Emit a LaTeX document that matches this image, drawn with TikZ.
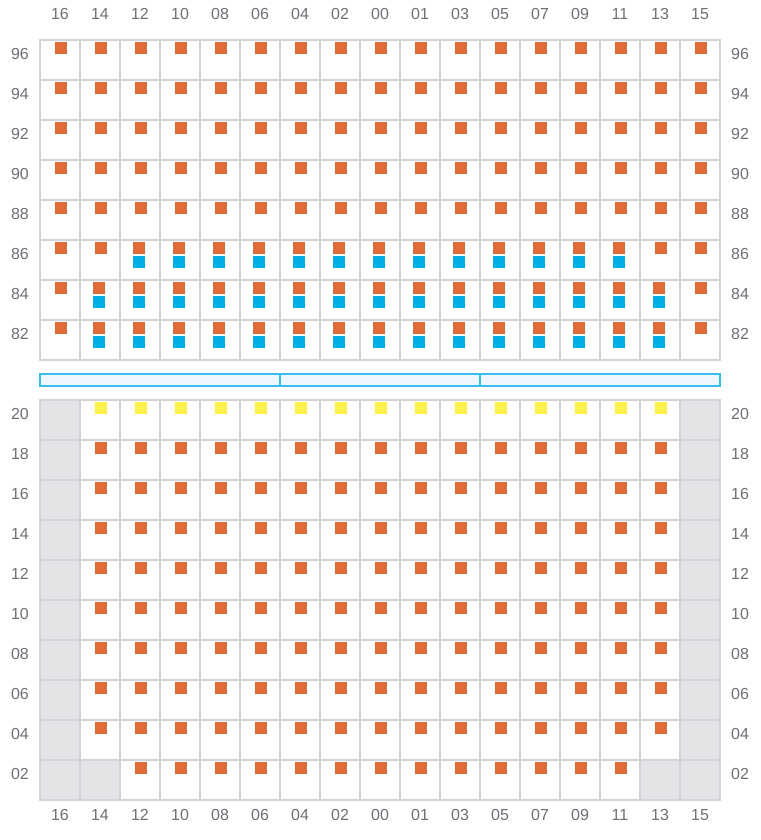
\documentclass[tikz,border=0pt]{standalone}
\usepackage{fontspec}
\setmainfont{Liberation Sans}
\usepackage{tikz}
\usetikzlibrary{math}

\definecolor{gridgray}{RGB}{212,212,216}
\definecolor{blockgray}{RGB}{228,228,230}
\definecolor{labelgray}{RGB}{110,110,118}
\definecolor{seatorange}{RGB}{224,108,56}
\definecolor{seatblue}{RGB}{0,174,231}
\definecolor{seatyellow}{RGB}{255,241,74}
\definecolor{barblue}{RGB}{58,188,245}
\definecolor{barfill}{RGB}{238,246,255}

\tikzset{
    lbl/.style={text=labelgray, font=\fontsize{16}{16}\selectfont, inner sep=0pt},
    cellline/.style={draw=gridgray, line width=2pt},
    bar/.style={draw=barblue, line width=2pt},
}

% one seat marker: centre x, top y, colour
\newcommand{\seatsq}[3]{\fill[#3] (#1-6,#2) rectangle ++(12,12);}

\begin{document}
\begin{tikzpicture}[x=1pt, y=-1pt]
    \tikzmath{\xL = 40; \cw = 40; \yTop = 40; \yBot = 400;}
    \useasboundingbox (0,0) rectangle (760,840);

    % column labels
    \foreach \c [count=\i from 0] in {16,14,12,10,08,06,04,02,00,01,03,05,07,09,11,13,15} {
        \node[lbl](col-top-\c) at (\xL+\cw*\i+20, 14) {\c};
        \node[lbl](col-bot-\c) at (\xL+\cw*\i+20, 815) {\c};
    }

    % upper block
    \foreach \r [count=\j from 0] in {96,94,92,90,88,86,84,82} {
        \node[lbl](row-\r-l) at (20, \yTop+\cw*\j+13.5) {\r};
        \node[lbl](row-\r-r) at (740, \yTop+\cw*\j+13.5) {\r};
    }
    \foreach \j in {0,...,4} {
        \foreach \i in {0,...,16} {
            \seatsq{\xL+\cw*\i+21}{\yTop+\cw*\j+2}{seatorange}
        }
    }
    \foreach \i in {0,1,15,16} {\seatsq{\xL+\cw*\i+21}{\yTop+\cw*5+2}{seatorange}}
    \foreach \i in {2,...,14} {
        \seatsq{\xL+\cw*\i+19}{\yTop+\cw*5+2}{seatorange}
        \seatsq{\xL+\cw*\i+19}{\yTop+\cw*5+16}{seatblue}
    }
    \foreach \j in {6,7} {
        \foreach \i in {0,16} {\seatsq{\xL+\cw*\i+21}{\yTop+\cw*\j+2}{seatorange}}
        \foreach \i in {1,...,15} {
            \seatsq{\xL+\cw*\i+19}{\yTop+\cw*\j+2}{seatorange}
            \seatsq{\xL+\cw*\i+19}{\yTop+\cw*\j+16}{seatblue}
        }
    }
    \foreach \j in {0,...,7} {
        \foreach \i in {0,...,16} {
            \draw[cellline] (\xL+\cw*\i, \yTop+\cw*\j) rectangle ++(\cw,\cw);
        }
    }

    % stage bar
    \draw[bar, fill=barfill] (40,374) rectangle (720,386);
    \draw[bar] (280,374) -- (280,386);
    \draw[bar] (480,374) -- (480,386);

    % lower block
    \foreach \r [count=\j from 0] in {20,18,16,14,12,10,08,06,04,02} {
        \node[lbl](row-\r-l) at (20, \yBot+\cw*\j+13.5) {\r};
        \node[lbl](row-\r-r) at (740, \yBot+\cw*\j+13.5) {\r};
        \fill[blockgray] (\xL, \yBot+\cw*\j) rectangle ++(\cw,\cw);
        \fill[blockgray] (\xL+\cw*16, \yBot+\cw*\j) rectangle ++(\cw,\cw);
    }
    \fill[blockgray] (\xL+\cw, \yBot+\cw*9) rectangle ++(\cw,\cw);
    \fill[blockgray] (\xL+\cw*15, \yBot+\cw*9) rectangle ++(\cw,\cw);
    \foreach \i in {1,...,15} {\seatsq{\xL+\cw*\i+21}{\yBot+2}{seatyellow}}
    \foreach \j in {1,...,8} {
        \foreach \i in {1,...,15} {
            \seatsq{\xL+\cw*\i+21}{\yBot+\cw*\j+2}{seatorange}
        }
    }
    \foreach \i in {2,...,14} {\seatsq{\xL+\cw*\i+21}{\yBot+\cw*9+2}{seatorange}}
    \foreach \j in {0,...,9} {
        \foreach \i in {0,...,16} {
            \draw[cellline] (\xL+\cw*\i, \yBot+\cw*\j) rectangle ++(\cw,\cw);
        }
    }
\end{tikzpicture}
\end{document}
